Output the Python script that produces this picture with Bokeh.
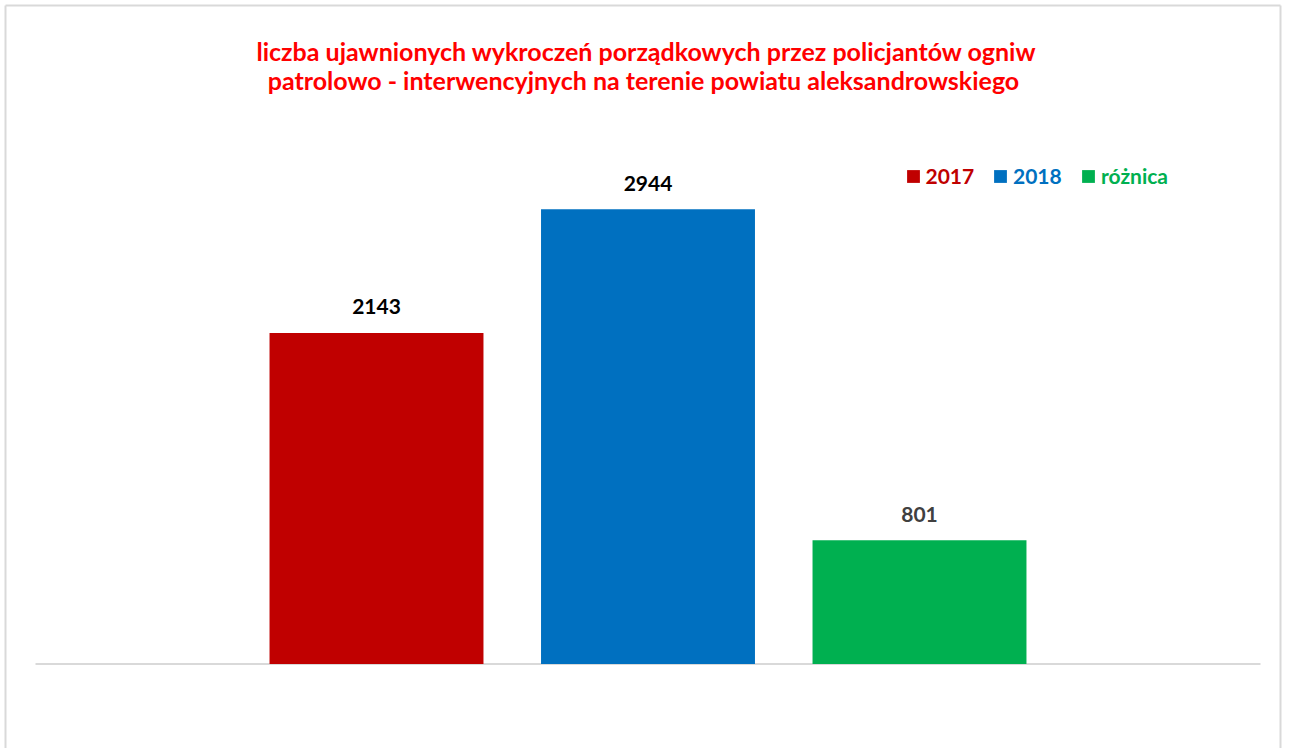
from bokeh.plotting import figure
from bokeh.models import Range1d, Label, Legend, LegendItem, ColumnDataSource
from bokeh.core.properties import value
from bokeh.embed import file_html
from bokeh.resources import INLINE

# ---- data ----
categories = ["2017", "2018", "różnica"]
values = [2143, 2944, 801]
bar_colors = ["#C00000", "#0070C0", "#00B050"]
label_colors = ["#000000", "#000000", "#404040"]
title_lines = [
    "liczba ujawnionych wykroczeń porządkowych przez policjantów ogniw",
    "patrolowo - interwencyjnych  na terenie powiatu aleksandrowskiego",
]

# ---- layout ----
W, H = 1282, 748
PX_PER_UNIT = 0.1545          # vertical pixels per value unit
UPP = 1.0 / PX_PER_UNIT
ZERO_FROM_TOP = 663.5          # canvas px of value 0
SLOT = 271.5                   # horizontal px per category
FIRST_CENTER = 376.0           # canvas px of first category centre
BAR_W = 0.788
FONT = "Lato"

x0 = -FIRST_CENTER / SLOT
x1 = x0 + W / SLOT
y0 = -(H - ZERO_FROM_TOP) * UPP
y1 = ZERO_FROM_TOP * UPP


def dx(px):
    return x0 + px / SLOT


def dy(py):
    return y1 - py * UPP


p = figure(width=W, height=H, output_backend="svg", toolbar_location=None,
           x_range=Range1d(x0, x1), y_range=Range1d(y0, y1),
           x_axis_location=None, y_axis_location=None,
           min_border=0, tools="")
p.xgrid.visible = False
p.ygrid.visible = False
p.background_fill_color = "white"
p.border_fill_color = "white"
p.outline_line_color = None

# chart-area border (left, top, right)
p.segment(x0=[dx(5), dx(5), dx(1280)], y0=[dy(H + 5), dy(5), dy(5)],
          x1=[dx(5), dx(1280), dx(1280)], y1=[dy(5), dy(5), dy(H + 5)],
          line_color="#D9D9D9", line_width=2)

# baseline
pad = 0.756
p.segment(x0=[-0.5 - pad], y0=[0], x1=[len(categories) - 0.5 + pad], y1=[0],
          line_color="#D9D9D9", line_width=2)

# bars
renderers = []
for i, (c, v, col) in enumerate(zip(categories, values, bar_colors)):
    r = p.vbar(x=[i], top=[v], bottom=0, width=BAR_W,
               fill_color=col, line_color=None)
    renderers.append(r)

# data labels
lab_src = ColumnDataSource(dict(
    x=list(range(len(categories))),
    y=[v + 26 * UPP for v in values],
    t=[str(v) for v in values],
    c=label_colors,
))
p.text(x="x", y="y", text="t", source=lab_src, text_color="c",
       text_font=value(FONT), text_font_style="bold", text_font_size="21px",
       text_align="center", text_baseline="alphabetic")

# title
title_baselines = [H - 50, H - 79.5]
for line, yb in zip(title_lines, title_baselines):
    p.add_layout(Label(x=646, y=yb, x_units="screen", y_units="screen",
                       text=line, text_align="center", text_baseline="alphabetic",
                       text_color="#FF0000", text_font=FONT,
                       text_font_style="bold", text_font_size="25px"))

# legends (one per series so each label keeps its own colour)
legend_x = [904.5, 992, 1080]
for r, c, col, lx in zip(renderers, categories, bar_colors, legend_x):
    lg = Legend(items=[LegendItem(label=c, renderers=[r])],
                location=(lx, 560), orientation="horizontal",
                glyph_width=16, glyph_height=16, label_standoff=5,
                padding=0, margin=0, spacing=0,
                border_line_color=None, background_fill_alpha=0,
                label_text_color=col, label_text_font=FONT,
                label_text_font_style="bold", label_text_font_size="21px")
    p.add_layout(lg)

open("out.html", "w").write(file_html(p, INLINE))
